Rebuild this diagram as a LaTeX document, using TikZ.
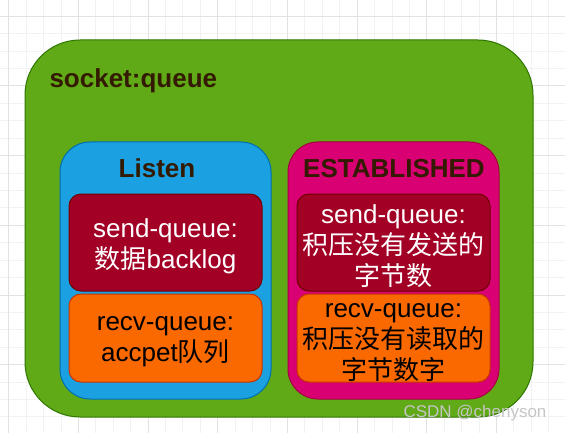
\documentclass[tikz,border=0pt]{standalone}
\usepackage{fontspec}
\setmainfont{Liberation Sans}
\newfontfamily\cjk{Noto Sans CJK SC}
\usetikzlibrary{positioning}

\definecolor{gridminor}{HTML}{F2F2F2}
\definecolor{gridmajor}{HTML}{E2E2E2}
\definecolor{sockgreen}{HTML}{60A917}
\definecolor{sockgreenline}{HTML}{2D7600}
\definecolor{listenblue}{HTML}{1BA1E2}
\definecolor{listenline}{HTML}{006EAF}
\definecolor{estmagenta}{HTML}{D80073}
\definecolor{estline}{HTML}{A50040}
\definecolor{sendred}{HTML}{A20025}
\definecolor{sendline}{HTML}{6F0000}
\definecolor{recvorange}{HTML}{FA6800}
\definecolor{recvline}{HTML}{C73500}
\definecolor{titlebrown}{HTML}{331A00}

\begin{document}
\begin{tikzpicture}[
		x=1pt, y=-1pt,
		stategroup/.style={draw, line width=1pt, rounded corners=30pt, minimum width=211pt, minimum height=257pt},
		queuebox/.style={draw, line width=1pt, rounded corners=12pt, minimum width=193pt},
		queuetext/.style={inner sep=0pt, align=center, font=\fontsize{26}{31}\selectfont},
		title/.style={anchor=base, text=titlebrown, font=\fontsize{26}{31}\selectfont\bfseries},
	]
		\useasboundingbox (0,0) rectangle (565,433);
		\fill[white] (0,0) rectangle (565,433);
		
		% grid
		\foreach \i in {0,...,32}
			\draw[gridminor] (8.46+\i*17.42,0) -- ++(0,433);
		\foreach \i in {0,...,25}
			\draw[gridminor] (0,16+\i*17.42) -- ++(565,0);
		\foreach \i in {0,...,8}
			\draw[gridmajor] (8.46+\i*69.68,0) -- ++(0,433);
		\foreach \i in {0,...,6}
			\draw[gridmajor] (0,16+\i*69.68) -- ++(565,0);
		
		\node[draw=sockgreenline, fill=sockgreen, line width=1pt, rounded corners=55pt,
			minimum width=508pt, minimum height=377pt] (socket) at (279,228.5) {};
		\node[anchor=base west, text=titlebrown, font=\fontsize{26}{31}\selectfont\bfseries] (sockettitle) at (46,88) {socket:queue};
		
		\node[stategroup, draw=listenline, fill=listenblue] (listen) at (165.5,270.5) {};
		\node[stategroup, draw=estline, fill=estmagenta] (established) at (393.5,270.5) {};
		\node[title] (listentitle) at (157,178) {Listen};
		\node[title] (esttitle) at (394,178) {ESTABLISHED};
		
		\node[queuebox, draw=sendline, fill=sendred, minimum height=97pt] (listensend) at (165.5,242.5) {};
		\node[queuebox, draw=recvline, fill=recvorange, minimum height=88pt] (listenrecv) at (165.5,338) {};
		\node[queuebox, draw=sendline, fill=sendred, minimum height=97pt] (estsend) at (393.5,242.5) {};
		\node[queuebox, draw=recvline, fill=recvorange, minimum height=88pt] (estrecv) at (393.5,338) {};
		
		\node[queuetext, text=white] (listensendtext) at ([yshift=-4pt]listensend.center)
			{send-queue:\\{\cjk 数据}backlog};
		\node[queuetext] (listenrecvtext) at ([yshift=-4pt]listenrecv.center)
			{recv-queue:\\accpet{\cjk 队列}};
		\node[queuetext, text=white] (estsendtext) at ([yshift=-4pt]estsend.center)
			{send-queue:\\{\cjk 积压没有发送的}\\{\cjk 字节数}};
		\node[queuetext] (estrecvtext) at ([yshift=-5pt]estrecv.center)
			{recv-queue:\\{\cjk 积压没有读取的}\\{\cjk 字节数字}};
		
		\node[anchor=east, text=gray!45, font=\fontsize{17}{20}\selectfont] (mark) at (550,413) {CSDN @chenyson};
	\end{tikzpicture}
\end{document}
